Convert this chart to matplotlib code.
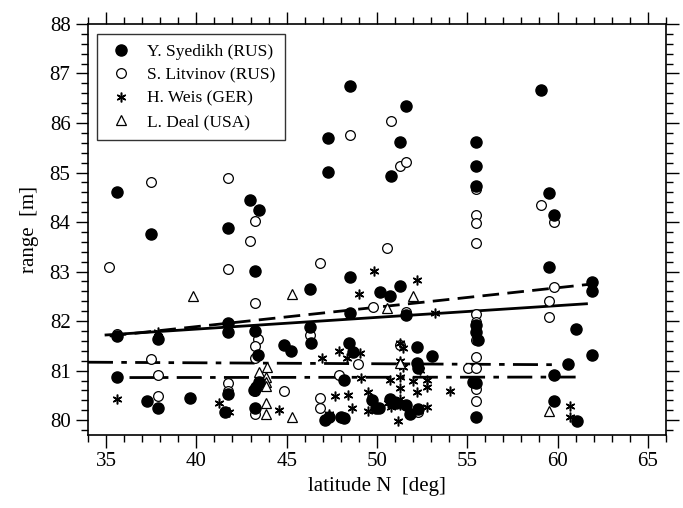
import matplotlib
matplotlib.use("Agg")
import matplotlib.pyplot as plt
from matplotlib.ticker import MultipleLocator

plt.rcParams['font.family'] = ['Liberation Serif', 'DejaVu Serif']

# Y. Syedikh (RUS) - filled circles
syedikh_lat = [35.63, 37.48, 35.63, 37.9, 35.63, 37.26, 37.9, 39.66, 41.77, 42.97,
               43.49, 43.25, 41.77, 41.77, 43.25, 43.43, 43.49, 43.3, 43.2, 41.77,
               41.58, 43.25, 44.87, 45.24, 46.31, 46.31, 46.35, 47.28, 47.28, 48.53,
               48.53, 48.51, 48.48, 48.66, 48.16, 47.14, 47.33, 48.0, 48.2, 49.73,
               49.95, 50.18, 50.73, 51.25, 51.62, 51.25, 50.8, 51.62, 52.23, 53.04,
               52.23, 52.27, 50.14, 50.7, 51.07, 51.62, 51.81, 52.27, 55.47, 55.47,
               55.47, 55.47, 55.47, 55.6, 55.3, 55.5, 55.47, 59.07, 59.52, 59.81,
               59.52, 61.92, 61.92, 61.04, 61.92, 60.58, 59.8, 59.8, 61.05]
syedikh_rng = [84.60, 83.75, 81.70, 81.64, 80.88, 80.39, 80.24, 80.44, 83.89, 84.45,
               84.25, 83.01, 81.97, 81.77, 81.81, 81.32, 80.78, 80.67, 80.60, 80.52,
               80.16, 80.25, 81.52, 81.40, 82.65, 81.89, 81.56, 85.69, 85.01, 86.75,
               82.90, 82.17, 81.56, 81.38, 80.82, 80.00, 80.07, 80.07, 80.04, 80.40,
               80.24, 82.58, 82.51, 82.70, 86.34, 85.61, 84.93, 82.13, 81.48, 81.29,
               81.15, 81.06, 80.25, 80.42, 80.34, 80.30, 80.12, 80.22, 85.61, 85.14,
               84.72, 81.92, 81.79, 81.62, 80.78, 80.74, 80.07, 86.67, 84.58, 84.14,
               83.10, 82.79, 82.61, 81.84, 81.32, 81.13, 80.91, 80.39, 79.98]

# S. Litvinov (RUS) - open circles
litvinov_lat = [35.17, 35.63, 37.48, 37.48, 37.9, 37.9, 41.77, 41.77, 41.77, 41.77,
                43.25, 42.97, 43.25, 43.43, 43.25, 43.25, 43.25, 43.25, 44.87, 46.31,
                46.87, 46.87, 46.87, 47.92, 48.53, 48.94, 49.77, 50.8, 50.56, 51.25,
                51.62, 51.62, 51.25, 52.27, 55.47, 55.47, 55.47, 55.47, 55.47, 55.47,
                55.47, 55.47, 55.04, 55.47, 55.47, 55.47, 59.07, 59.81, 59.81, 59.52,
                59.52]
litvinov_rng = [83.09, 81.74, 84.80, 81.23, 80.92, 80.49, 84.88, 83.06, 80.76, 80.58,
                84.03, 83.62, 82.37, 81.63, 81.50, 81.25, 80.59, 80.13, 80.59, 81.72,
                83.17, 80.45, 80.25, 80.91, 85.75, 81.13, 82.28, 86.05, 83.48, 85.14,
                85.21, 82.19, 81.52, 80.17, 84.66, 84.14, 83.98, 83.58, 82.15, 81.99,
                81.62, 81.28, 81.06, 81.06, 80.62, 80.38, 84.35, 84.00, 82.68, 82.41,
                82.09]

# H. Weis (GER) - asterisks
weis_lat = [35.63, 37.9, 41.23, 41.8, 44.6, 46.96, 47.88, 48.33, 49.05, 49.12,
            47.65, 48.42, 47.33, 48.6, 49.5, 49.5, 49.03, 49.86, 52.23, 53.24,
            51.43, 51.25, 51.25, 51.43, 52.36, 50.75, 51.25, 51.99, 52.78, 51.25,
            52.78, 52.23, 54.04, 51.25, 51.25, 50.6, 50.79, 52.78, 51.16, 60.68,
            60.68]
weis_rng = [80.42, 81.78, 80.35, 80.16, 80.20, 81.25, 81.40, 81.25, 81.35, 80.86,
            80.49, 80.51, 80.12, 80.24, 80.57, 80.19, 82.55, 83.02, 82.83, 82.16,
            81.45, 81.55, 81.20, 81.08, 81.01, 80.82, 80.88, 80.80, 80.82, 80.64,
            80.66, 80.57, 80.58, 80.42, 80.30, 80.34, 80.26, 80.26, 79.98, 80.28,
            80.07]

# L. Deal (USA) - open triangles
deal_lat = [39.79, 45.28, 50.56, 52.02, 43.49, 43.89, 43.86, 43.86, 43.86, 43.86,
            43.86, 45.3, 51.25, 59.52]
deal_rng = [82.51, 82.54, 82.26, 82.51, 80.98, 81.08, 80.88, 80.78, 80.69, 80.35,
            80.13, 80.07, 81.15, 80.19]

# regression lines (end points)
fit_solid_x = [35.0, 61.6]
fit_solid_y = [81.72, 82.35]
fit_dash_x = [35.2, 62.2]
fit_dash_y = [81.70, 82.76]
fit_dd1_x = [34.0, 59.7]
fit_dd1_y = [81.17, 81.12]
fit_dd2_x = [36.3, 61.0]
fit_dd2_y = [80.86, 80.87]

fig = plt.figure(figsize=(6.83, 5.08), dpi=100)
ax = fig.add_axes([0.1288, 0.1437, 0.8462, 0.8091])

ax.plot(litvinov_lat, litvinov_rng, 'o', ms=7, mfc='white', mec='black', mew=0.9,
        ls='none', label='S. Litvinov (RUS)', zorder=3)
ax.plot(syedikh_lat, syedikh_rng, 'o', ms=8, mfc='black', mec='black',
        ls='none', label='Y. Syedikh (RUS)', zorder=4)
ax.plot(weis_lat, weis_rng, marker=(6, 2, 0), ms=7, color='black', mew=1.1,
        ls='none', label='H. Weis (GER)', zorder=3)
ax.plot(deal_lat, deal_rng, '^', ms=7.5, mfc='white', mec='black', mew=0.9,
        ls='none', label='L. Deal (USA)', zorder=3)

ax.plot(fit_solid_x, fit_solid_y, '-', color='black', lw=2.0, zorder=2)
ax.plot(fit_dash_x, fit_dash_y, color='black', lw=2.0, dashes=(6, 3), zorder=2)
ax.plot(fit_dd1_x, fit_dd1_y, color='black', lw=2.0, dashes=(9, 3, 2, 3), zorder=2)
ax.plot(fit_dd2_x, fit_dd2_y, color='black', lw=2.0, dashes=(9, 3, 2, 3), zorder=2)

ax.set_xlim(34, 66)
ax.set_ylim(79.7, 88)
ax.xaxis.set_major_locator(MultipleLocator(5))
ax.xaxis.set_minor_locator(MultipleLocator(1))
ax.yaxis.set_major_locator(MultipleLocator(1))
ax.yaxis.set_minor_locator(MultipleLocator(0.2))
ax.tick_params(which='both', direction='out', top=True, right=True, width=1.0,
               labelsize=15)
ax.tick_params(which='major', length=9)
ax.tick_params(which='minor', length=5)
for s in ax.spines.values():
    s.set_linewidth(1.2)

ax.set_xlabel('latitude N  [deg]', fontsize=15)
ax.set_ylabel('range  [m]', fontsize=15, labelpad=8)

handles, labels = ax.get_legend_handles_labels()
order = [1, 0, 2, 3]
leg = ax.legend([handles[i] for i in order], [labels[i] for i in order],
                loc='upper left', fontsize=12.5, frameon=True, fancybox=False,
                edgecolor='black', borderpad=0.55, handlelength=1.6,
                handletextpad=0.7, labelspacing=0.42, borderaxespad=0,
                bbox_to_anchor=(0.016, 0.975))
leg.get_frame().set_linewidth(1.0)

fig.savefig('out.png', dpi=100)
